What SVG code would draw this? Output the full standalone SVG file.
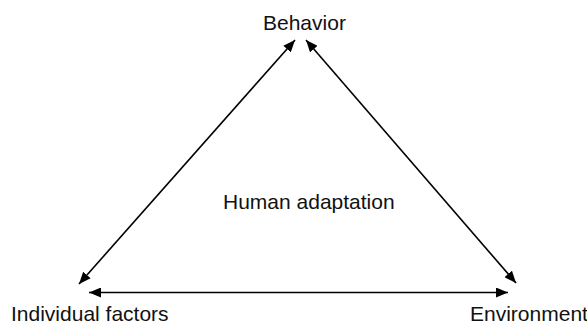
<svg xmlns="http://www.w3.org/2000/svg" width="587" height="326" viewBox="0 0 587 326">
<style>
.lbl{font-family:"Liberation Sans",Arial,sans-serif;font-size:21px;fill:#111;}
.con{stroke:#000;stroke-width:1.6;fill:none;marker-start:url(#ah);marker-end:url(#ah);}
</style>
<defs>
<marker id="ah" markerUnits="userSpaceOnUse" markerWidth="12" markerHeight="10" refX="12" refY="5" orient="auto-start-reverse" viewBox="0 0 12 10">
<path d="M0,0 L12,5 L0,10 z" fill="#000"/>
</marker>
</defs>
<rect width="587" height="326" fill="#fff"/>
<g id="connectors">
<line class="con" x1="79" y1="284" x2="295" y2="40"/>
<line class="con" x1="306" y1="40" x2="516" y2="283"/>
<line class="con" x1="89" y1="292.5" x2="508" y2="292.5"/>
</g>
<g id="behavior"><text class="lbl" x="263" y="30">Behavior</text></g>
<g id="human-adaptation"><text class="lbl" x="223" y="209">Human adaptation</text></g>
<g id="individual-factors"><text class="lbl" x="11" y="321">Individual factors</text></g>
<g id="environment"><text class="lbl" x="470" y="321">Environment</text></g>
</svg>
